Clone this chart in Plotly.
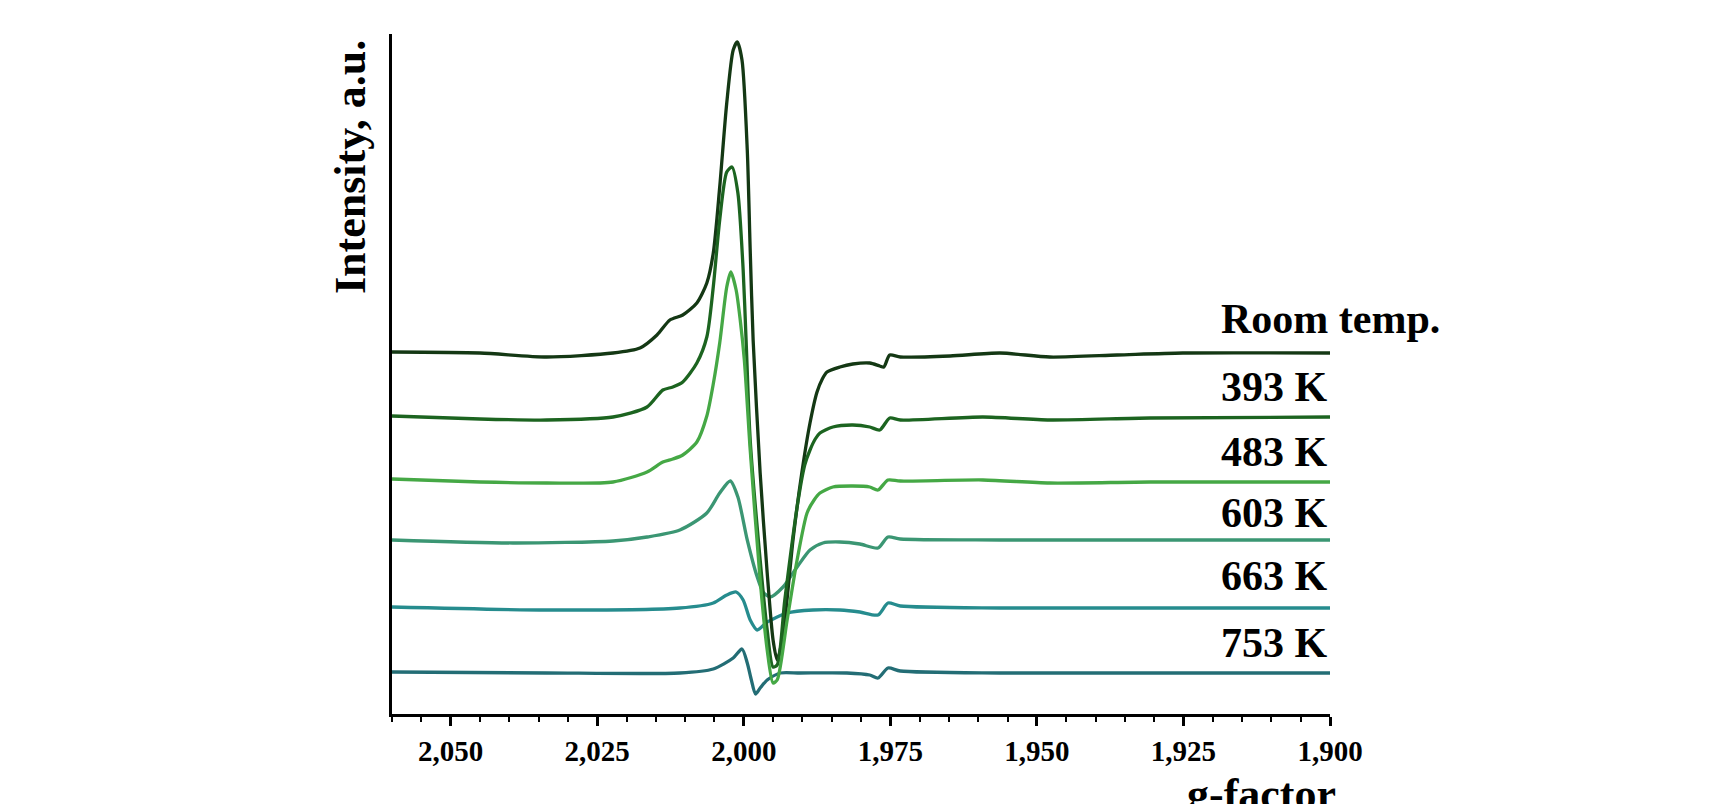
import plotly.graph_objects as go

# ---- data (g-factor vs intensity, a.u.) ----
series_names = ["Room temp.", "393 K", "483 K", "603 K", "663 K", "753 K"]

g_room = [2.0600, 2.0450, 2.0336, 2.0223, 2.0177, 2.0148, 2.0126, 2.0104, 2.0080, 2.0063,
          2.0052, 2.0041, 2.0029, 2.0018, 2.0011, 2.0003, 1.9994, 1.9989, 1.9984, 1.9972,
          1.9960, 1.9950, 1.9943, 1.9933, 1.9916, 1.9901, 1.9887, 1.9875, 1.9866, 1.9858,
          1.9836, 1.9814, 1.9785, 1.9768, 1.9761, 1.9751, 1.9733, 1.9648, 1.9563, 1.9478,
          1.9363, 1.9251, 1.9000]
i_room = [362, 361, 357, 361, 366, 379, 394, 399, 411, 431,
          461, 527, 611, 664, 672, 654, 564, 464, 374, 241,
          141, 74, 54, 79, 174, 241, 291, 322, 335, 342,
          347, 350, 351, 348, 347, 359, 357, 358, 361, 357,
          359, 361, 361]

g_393 = [2.0600, 2.0450, 2.0336, 2.0223, 2.0165, 2.0138, 2.0121, 2.0104, 2.0080, 2.0063,
         2.0052, 2.0041, 2.0029, 2.0020, 2.0010, 2.0001, 1.9996, 1.9989, 1.9972, 1.9960,
         1.9950, 1.9943, 1.9930, 1.9909, 1.9896, 1.9887, 1.9878, 1.9870, 1.9848, 1.9814,
         1.9785, 1.9768, 1.9751, 1.9733, 1.9592, 1.9478, 1.9307, 1.9000]
i_393 = [298, 295, 294, 297, 307, 324, 327, 332, 351, 377,
         427, 494, 542, 547, 521, 444, 374, 274, 154, 84,
         47, 49, 114, 207, 249, 264, 275, 281, 287, 289,
         287, 284, 296, 294, 297, 294, 296, 297]

g_483 = [2.0600, 2.0450, 2.0336, 2.0223, 2.0165, 2.0138, 2.0121, 2.0104, 2.0080, 2.0063,
         2.0052, 2.0041, 2.0029, 2.0022, 2.0013, 2.0006, 1.9999, 1.9989, 1.9972, 1.9960,
         1.9950, 1.9943, 1.9926, 1.9909, 1.9892, 1.9880, 1.9870, 1.9848, 1.9814, 1.9785,
         1.9771, 1.9754, 1.9733, 1.9592, 1.9478, 1.9307, 1.9000]
i_483 = [235, 232, 231, 232, 242, 252, 255, 259, 272, 298,
         330, 371, 427, 442, 424, 394, 354, 264, 134, 64,
         31, 34, 94, 154, 201, 214, 221, 227, 228, 227,
         224, 234, 233, 234, 231, 232, 232]

g_603 = [2.0600, 2.0394, 2.0223, 2.0165, 2.0109, 2.0063, 2.0041, 2.0023, 2.0010, 1.9994,
         1.9977, 1.9967, 1.9955, 1.9933, 1.9909, 1.9887, 1.9865, 1.9836, 1.9802, 1.9771,
         1.9754, 1.9733, 1.9563, 1.9000]
i_603 = [174, 171, 173, 177, 184, 201, 221, 233, 217, 174,
         137, 122, 117, 127, 147, 164, 171, 172, 170, 166,
         177, 175, 174, 174]

g_663 = [2.0600, 2.0336, 2.0109, 2.0052, 2.0029, 2.0013, 2.0001, 1.9989, 1.9977, 1.9960,
         1.9926, 1.9882, 1.9836, 1.9802, 1.9771, 1.9754, 1.9733, 1.9563, 1.9000]
i_663 = [107, 104, 106, 111, 119, 122, 114, 94, 84, 92,
         101, 104, 104, 102, 99, 111, 108, 106, 106]

g_753 = [2.0600, 2.0336, 2.0109, 2.0052, 2.0018, 2.0003, 1.9994, 1.9987, 1.9980, 1.9972,
         1.9960, 1.9938, 1.9904, 1.9824, 1.9785, 1.9771, 1.9754, 1.9733, 1.9563, 1.9000]
i_753 = [42, 41, 41, 45, 56, 65, 51, 34, 20, 26,
         34, 41, 41, 41, 39, 36, 46, 43, 41, 41]

x_tick_vals = [2.050, 2.025, 2.000, 1.975, 1.950, 1.925, 1.900]
x_tick_text = ["2,050", "2,025", "2,000", "1,975", "1,950", "1,925", "1,900"]

colors = ["#143814", "#1c6420", "#45a845", "#3b9673", "#268c8e", "#236d75"]
g_all = [g_room, g_393, g_483, g_603, g_663, g_753]
i_all = [i_room, i_393, i_483, i_603, i_663, i_753]

FONT = "Liberation Serif, Times New Roman, serif"

fig = go.Figure()
draw_order = [5, 4, 3, 0, 1, 2]
for k in draw_order:
    fig.add_trace(go.Scatter(
        x=g_all[k], y=i_all[k], mode="lines", name=series_names[k],
        line=dict(color=colors[k], width=3.3, shape="spline", smoothing=0.7),
        showlegend=False, hoverinfo="skip"))

# labels: between consecutive baselines (right end values)
ends = [i[-1] for i in i_all]
for k, name in enumerate(series_names):
    font = dict(family=FONT, size=42, color="black", weight="bold")
    if k == 0:
        fig.add_annotation(x=1.119, y=ends[0] + 34, xref="paper", yref="y", text=name,
                           showarrow=False, xanchor="right", yanchor="middle", font=font)
    else:
        fig.add_annotation(x=1.900, y=(ends[k - 1] + ends[k]) / 2 - 2, xref="x", yref="y",
                           text=name, showarrow=False, xanchor="right", yanchor="middle",
                           font=font)

fig.add_annotation(text="Intensity, a.u.", xref="paper", yref="paper",
                   x=-0.044, y=0.804, textangle=-90, showarrow=False,
                   xanchor="center", yanchor="middle",
                   font=dict(family=FONT, size=44, color="black", weight="bold"))
fig.add_annotation(text="g-factor", xref="paper", yref="paper",
                   x=1.008, y=-0.079, showarrow=False,
                   xanchor="right", yanchor="top",
                   font=dict(family=FONT, size=44, color="black", weight="bold"))

fig.update_xaxes(range=[2.060, 1.900], showline=True, linecolor="black", linewidth=2.5,
                 showgrid=False, zeroline=False, ticks="outside", ticklen=9, tickwidth=2.5,
                 tickcolor="black", tickvals=x_tick_vals, ticktext=x_tick_text,
                 tickfont=dict(family=FONT, size=29, color="black", weight="bold"),
                 minor=dict(ticks="outside", ticklen=5, tickwidth=2, tickcolor="black",
                            dtick=0.005, tick0=1.900, showgrid=False))
fig.update_yaxes(range=[0, 680], showline=True, linecolor="black", linewidth=2.5,
                 showgrid=False, zeroline=False, showticklabels=False, ticks="")

fig.update_layout(width=1710, height=804, margin=dict(l=392, r=380, t=34, b=90),
                  paper_bgcolor="white", plot_bgcolor="white")

fig.write_html("out.html")
